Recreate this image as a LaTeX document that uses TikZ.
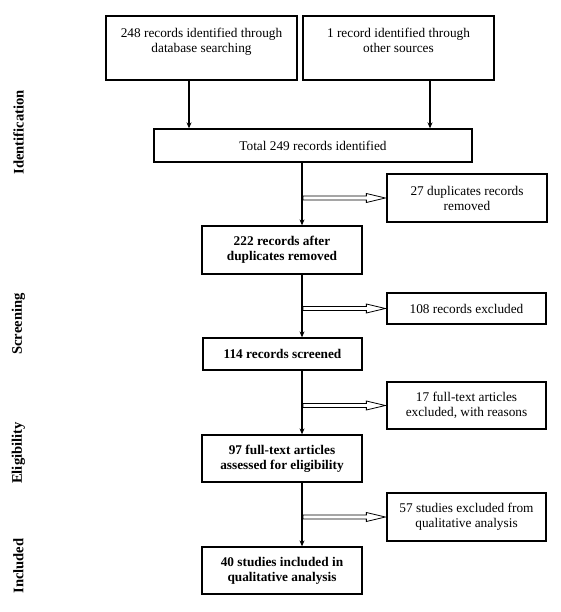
\documentclass[tikz,border=0pt]{standalone}
\usepackage{fontspec}
\setmainfont{Liberation Serif}
\usetikzlibrary{arrows.meta,calc}
\begin{document}
\begin{tikzpicture}[x=1pt,y=-1pt,
  box/.style={draw,line width=1.3pt,align=center,inner sep=0pt,font=\fontsize{13.3}{15}\selectfont},
  bbox/.style={box,font=\fontsize{13.3}{15}\selectfont\bfseries},
  side/.style={rotate=90,font=\fontsize{14.6}{16}\selectfont\bfseries},
  flow/.style={line width=1.3pt,-{Stealth[length=6pt,width=5pt]}},
  hol/.style={line width=0.8pt,fill=white}]
\useasboundingbox (0,0) rectangle (561,612);
\coordinate (mx) at (302,0);
\coordinate (ax) at (189,0);
\coordinate (bx) at (430,0);
\node[box,minimum width=191,minimum height=64] (a) at (201.5,48) {248 records identified through\\database searching\\ ~};
\node[box,minimum width=191,minimum height=64] (b) at (398.5,48) {1 record identified through\\other sources\\ ~};
\node[box,minimum width=318,minimum height=33] (tot) at (313,145.5) {Total 249 records identified};
\node[box,minimum width=160,minimum height=48] (dup) at (467,198) {27 duplicates records\\removed};
\node[bbox,minimum width=160,minimum height=48] (r222) at (282,250) {222 records after\\duplicates removed};
\node[box,minimum width=159,minimum height=31] (ex108) at (466.5,308.5) {108 records excluded};
\node[bbox,minimum width=159,minimum height=32] (r114) at (282.5,354) {114 records screened};
\node[box,minimum width=159,minimum height=47] (ex17) at (466.5,405.5) {17 full-text articles\\excluded, with reasons};
\node[bbox,minimum width=160,minimum height=47] (r97) at (282,458.5) {97 full-text articles\\assessed for eligibility};
\node[box,minimum width=159,minimum height=48] (ex57) at (466.5,517) {57 studies excluded from\\qualitative analysis};
\node[bbox,minimum width=160,minimum height=47] (r40) at (282,570.5) {40 studies included in\\qualitative analysis};
\node[side] (l1) at (18.5,132.5) {Identification};
\node[side] (l2) at (18.5,324) {Screening};
\node[side] (l3) at (18.5,453) {Eligibility};
\node[side] (l4) at (18.5,566) {Included};
\draw[flow] (a.south -| ax) -- (tot.north -| ax);
\draw[flow] (b.south -| bx) -- (tot.north -| bx);
\draw[flow] (tot.south -| mx) -- (r222.north -| mx);
\draw[flow] (r222.south -| mx) -- (r114.north -| mx);
\draw[flow] (r114.south -| mx) -- (r97.north -| mx);
\draw[flow] (r97.south -| mx) -- (r40.north -| mx);
\foreach \t in {dup,ex108,ex17,ex57}{
  \draw[hol] let \p1=(\t.west -| mx), \p2=(\t.west) in
    (\x1+1,\y1+2) -- (\x2-20,\y1+2) -- (\x2-20,\y1+4.5) -- (\x2-1,\y1) -- (\x2-20,\y1-4.5) -- (\x2-20,\y1-2) -- (\x1+1,\y1-2) -- cycle;
}
\end{tikzpicture}
\end{document}
